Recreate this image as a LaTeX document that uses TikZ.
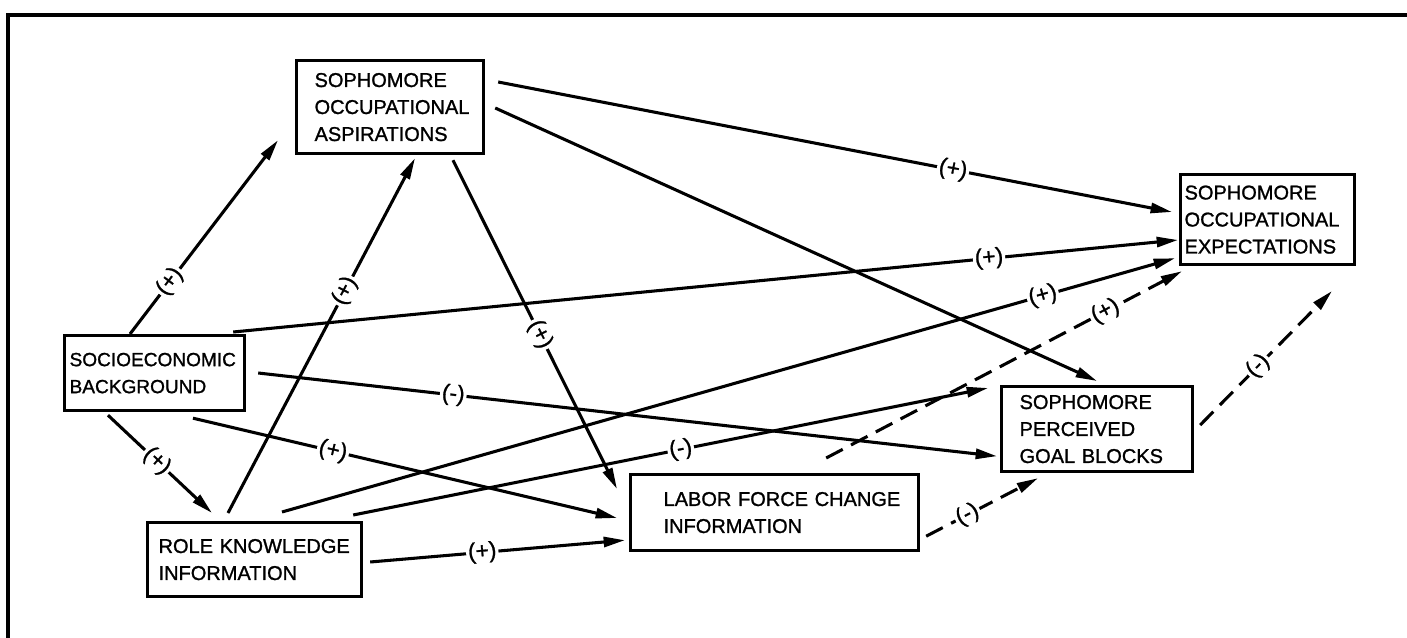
\documentclass[tikz,border=0pt]{standalone}
\usepackage{fontspec}
\setmainfont{Liberation Sans}
\newfontfamily\boxfont{Liberation Sans}[FakeBold=1.2]
\usetikzlibrary{arrows.meta,calc}
\begin{document}
\begin{tikzpicture}[x=0.75pt,y=-0.75pt,
  box/.style={draw, line width=2.4pt, align=left, inner ysep=0pt, anchor=north west,
    font=\boxfont\fontsize{15}{20.25}\selectfont},
  conn/.style={line width=2.3pt, -{Triangle[length=16pt,width=7.5pt]}},
  dconn/.style={conn, dash pattern=on 14pt off 7pt},
  lbl/.style={fill=white, inner sep=1.5pt, sloped, font=\boxfont\fontsize{17}{17}\selectfont}]
\useasboundingbox (0,0) rectangle (1407,638);
% frame
\draw[line width=3.5pt] (8,638) -- (8,15) -- (1407,15);
% boxes
\node[box, minimum width=140.25pt, minimum height=69.75pt, inner xsep=13.5pt, text width=113.25pt] (asp) at (295,59)
  {SOPHOMORE\\OCCUPATIONAL\\ASPIRATIONS};
\node[box, minimum width=130.5pt, minimum height=67.5pt, inner xsep=3pt, text width=124.5pt] (exp) at (1179,173)
  {SOPHOMORE\\OCCUPATIONAL\\EXPECTATIONS};
\node[box, minimum width=135pt, minimum height=56.25pt, inner xsep=3.75pt, text width=127.5pt,
  font=\boxfont\fontsize{14.3}{20.25}\selectfont] (soc) at (63,334)
  {SOCIOECONOMIC\\BACKGROUND};
\node[box, minimum width=160.5pt, minimum height=55.5pt, inner xsep=8.25pt, text width=144pt] (rol) at (146,521)
  {ROLE~KNOWLEDGE\\INFORMATION};
\node[box, minimum width=216pt, minimum height=57pt, inner xsep=24.75pt, text width=166.5pt] (lab) at (629,473)
  {LABOR~FORCE~CHANGE\\INFORMATION};
\node[box, minimum width=143.25pt, minimum height=63.75pt, inner xsep=13.5pt, text width=116.25pt] (per) at (1000,385)
  {SOPHOMORE\\PERCEIVED\\GOAL~BLOCKS};
\coordinate (free) at (1332,291);
% connectors
\draw[conn] ($(soc.north west)+(67,0)$) -- node[lbl,pos=0.27] {(+)} ($(asp.south west)+(-17,-15)$);
\draw[conn] ($(rol.north west)+(82,-8)$) -- node[lbl,pos=0.626] {(+)} ($(asp.south west)+(120,3)$);
\draw[conn] ($(asp.south west)+(158,5)$) -- node[lbl,pos=0.53] {(+)} ($(lab.north west)+(-12,16)$);
\draw[conn] ($(asp.north east)+(13,23)$) -- node[lbl,pos=0.675] {(+)} ($(exp.north west)+(-7,39)$);
\draw[conn] ($(asp.north east)+(10,49)$) -- ($(per.north west)+(97,-4)$);
\draw[conn] ($(soc.north east)+(-13,-2)$) -- node[lbl,pos=0.8] {(+)} ($(exp.north west)+(-1,67)$);
\draw[conn] ($(soc.north east)+(12,39)$) -- node[lbl,pos=0.264] {(-)} ($(per.south west)+(-3,-17)$);
\draw[conn] ($(soc.south west)+(130,6)$) -- node[lbl,pos=0.33] {(+)} ($(lab.north west)+(-12,45)$);
\draw[conn] ($(soc.south west)+(45,3)$) -- node[lbl,pos=0.47] {(+)} ($(rol.north west)+(66,-8)$);
\draw[conn] ($(rol.north east)+(7,41)$) -- node[lbl,pos=0.44] {(+)} ($(lab.south west)+(-4,-12)$);
\draw[conn] ($(rol.north west)+(136,-9)$) -- node[lbl,pos=0.852] {(+)} ($(exp.south west)+(-4,-8)$);
\draw[conn] ($(rol.north east)+(-10,-6)$) -- node[lbl,pos=0.516] {(-)} ($(per.north west)+(-12,3)$);
\draw[dconn] ($(lab.north east)+(-94,-15)$) -- node[lbl,pos=0.785] {(+)} ($(exp.south west)+(3,5)$);
\draw[dconn] ($(lab.south east)+(6,-16)$) -- node[lbl,pos=0.37] {(-)} ($(per.south west)+(38,5)$);
\draw[dconn] ($(per.north east)+(6,40)$) -- node[lbl,pos=0.44] {(-)} (free);
\end{tikzpicture}
\end{document}
